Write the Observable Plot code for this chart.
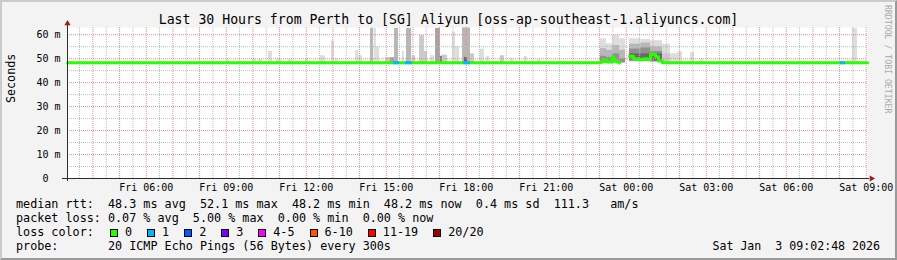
<!DOCTYPE html>
<html><head><meta charset="utf-8">
<script src="https://cdn.jsdelivr.net/npm/d3@7"></script>
<script src="https://cdn.jsdelivr.net/npm/@observablehq/plot@0.6"></script>
<style>
html,body{margin:0;padding:0;background:#f3f3f3;}
#wrap{position:relative;width:897px;height:260px;background:#f3f3f3;font-family:"DejaVu Sans Mono",monospace;color:#000;overflow:hidden;}
#shade{position:absolute;left:0;top:0;width:897px;height:260px;box-sizing:border-box;border-top:2px solid #cbcbcb;border-left:2px solid #cbcbcb;border-right:2px solid #999;border-bottom:2px solid #999;pointer-events:none;}
#title{height:20px;position:relative;font-size:13.2px;}
#title span{position:absolute;left:0;right:0;top:12px;text-align:center;white-space:pre;line-height:15px;}
#chart svg{display:block;overflow:visible;background:transparent;}
#legend{width:881px;padding-top:1px;padding-left:16px;font-size:11.75px;line-height:14px;white-space:pre;}
#legend .ln{position:relative;height:14px;}
#legend .box{display:inline-block;width:6px;height:6px;border:1px solid #000;vertical-align:-1px;margin-left:15px;margin-right:7px;}
#legend .box.first{margin-left:2px;}
#stamp{position:absolute;right:17px;top:0;font-size:11.6px;}
#wm{position:absolute;left:883px;top:5px;font-size:8.2px;color:#aaa;writing-mode:vertical-rl;white-space:pre;font-family:"DejaVu Sans Mono",monospace;}
</style></head>
<body>
<div id="wrap">
  <div id="title"><span></span></div>
  <div id="chart"></div>
  <div id="legend"></div>
  <div id="wm">RRDTOOL / TOBI OETIKER</div>
  <div id="shade"></div>
</div>
<script>
// ---------------- data ----------------
const titleText = "Last 30 Hours from Perth to [SG] Aliyun [oss-ap-southeast-1.aliyuncs.com]";
const yAxisTitle = "Seconds";
const startTime = "2026-01-02T03:02:48Z";   // Fri
const endTime   = "2026-01-03T09:02:48Z";   // Sat
const yMax = 63;
const yTicks = [0, 10, 20, 30, 40, 50, 60];
const xTickHours = [6, 9, 12, 15, 18, 21, 24, 27, 30, 33]; // hours after Fri 00:00

// median RTT steps: hour after Fri 00:00, value in ms (null = no data)
const medianHour = [3.05, 23.03, 23.15, 23.26, 23.48, 23.52, 23.63, 23.75, 23.97, 24.12, 24.27, 24.46, 24.65, 24.80, 24.91, 25.10, 25.21, 25.36, 33.05];
const medianMs   = [48.3, 48.6, 49.3, 48.6, 50.8, 49.3, 48.6, 48.2, null, 51.0, 50.0, 49.6, 50.0, 49.6, 51.8, 50.8, 49.0, 48.3, 48.3];

// periods with packet loss (median drawn in the loss colour)
const lossStart = [15.27, 15.72, 17.90, 32.03];
const lossEnd   = [15.50, 15.98, 18.16, 32.22];
const lossValue = [48.3, 48.3, 48.3, 48.3];
const lossCount = [1, 1, 1, 1];

// smoke bands: [start hour, end hour, low ms, high ms, band rank (1 = core, 10 = outermost)]
const smoke = [
  [7.62,7.70,48.2,48.9,10],[9.01,9.12,48.2,49.5,10],[9.98,10.13,48.2,49.6,10],[10.21,10.36,48.2,49.6,10],
  [10.58,10.73,48.2,53.1,10],[10.88,11.07,48.2,49.8,10],[11.33,11.48,48.2,49.6,10],[11.97,12.08,48.2,50.0,10],
  [12.53,12.72,48.2,51.2,10],[12.95,13.06,48.2,57.5,10],[13.10,13.20,48.2,49.9,10],[13.85,13.96,48.2,53.3,10],
  [13.96,14.11,48.2,51.2,10],[14.41,14.52,48.2,62.6,8],[14.56,14.63,48.2,62.6,10],[14.63,14.75,48.2,55.0,10],
  [14.97,15.16,48.2,50.5,9],[15.16,15.31,48.2,50.4,7],[15.31,15.46,48.2,62.6,8],[15.61,15.68,48.2,53.0,10],
  [15.76,15.95,48.2,62.6,8],[15.98,16.10,48.2,51.2,9],[16.25,16.43,48.2,59.6,9],[16.43,16.55,48.2,53.0,9],
  [16.66,16.81,48.2,51.2,10],[16.85,17.03,48.2,62.6,7],[17.03,17.11,48.2,51.0,5],[17.11,17.30,48.2,51.5,9],
  [17.48,17.60,48.2,61.0,10],[17.60,17.75,48.2,55.0,10],[17.86,18.16,48.2,62.8,8],[17.94,18.05,48.2,50.5,3],
  [18.16,18.31,48.2,52.0,9],[18.53,18.68,48.2,54.0,10],[18.76,18.87,48.2,51.0,10],[19.28,19.43,48.2,51.2,9],
  [19.66,19.77,48.2,50.0,10],[20.18,20.29,48.2,51.0,10],[20.67,20.78,48.2,49.6,10],
  [23.03,23.26,48.2,58.3,10],[23.26,23.48,48.2,56.2,10],[23.48,23.75,48.2,59.7,10],[23.75,23.97,48.2,58.3,10],
  [23.03,23.26,48.2,54.2,8],[23.26,23.48,48.2,53.5,8],[23.48,23.75,48.2,55.5,8],[23.75,23.97,48.2,53.5,8],
  [23.03,23.26,48.3,51.0,6],[23.26,23.48,48.3,50.5,6],[23.48,23.75,48.3,52.0,6],[23.75,23.97,48.2,50.0,6],
  [24.12,24.55,48.5,58.3,10],[24.55,24.91,48.5,58.0,10],[24.91,25.36,48.3,57.5,10],
  [24.12,24.55,48.8,56.0,8],[24.55,24.91,48.8,56.5,8],[24.91,25.36,48.5,55.0,8],
  [24.12,24.55,49.0,54.0,6],[24.55,24.91,49.0,54.5,6],[24.91,25.36,48.8,53.0,6],
  [24.12,24.55,49.3,52.0,4],[24.55,24.91,49.3,52.0,4],[24.91,25.36,49.0,52.0,4],
  [25.36,25.66,48.2,56.0,10],[25.36,25.66,48.2,52.0,9],
  [25.66,25.92,48.2,52.0,10],[25.92,26.11,48.2,52.8,10],[26.41,26.56,48.2,52.5,10],[26.78,26.90,48.2,49.8,10],
  [27.94,28.06,48.2,49.0,10],[32.30,32.48,48.2,49.3,10],[32.48,32.67,48.2,62.6,10]
];

// legend
const lossLabels = ["0", "1", "2", "3", "4-5", "6-10", "11-19", "20/20"];
const lossColors = ["#26ff00", "#00b8ff", "#0059ff", "#7e00ff", "#ff00ff", "#ff5500", "#ff0000", "#a00000"];
const rttLine  = "median rtt:  48.3 ms avg  52.1 ms max  48.2 ms min  48.2 ms now  0.4 ms sd  111.3   am/s";
const lossLine = "packet loss: 0.07 % avg  5.00 % max  0.00 % min  0.00 % now";
const probeLine = "probe:       20 ICMP Echo Pings (56 Bytes) every 300s";
const stampText = "Sat Jan  3 09:02:48 2026";

// ---------------- build ----------------
const base = Date.UTC(2026, 0, 2);
const T = h => new Date(base + h * 3600e3);
const t0 = new Date(startTime), t1 = new Date(endTime);

const bands = smoke.map(([a, b, lo, hi, r]) => ({t1: T(a), t2: T(b), lo, hi, r}))
  .sort((p, q) => q.r - p.r);
const median = medianHour.map((h, i) => ({t: T(h), v: medianMs[i]}));
const loss = lossStart.map((s, i) => ({t1: T(s), t2: T(lossEnd[i]), v: lossValue[i], c: lossColors[lossCount[i]]}));

const hourGrid = d3.utcHour.every(1).range(t0, t1);
const halfGrid = d3.utcMinute.every(30).range(t0, t1).filter(d => d.getUTCMinutes() === 30);
const yMajor = d3.range(10, yMax, 10);
const yMinor = d3.range(5, yMax, 10);

document.querySelector("#title span").textContent = titleText;

const chart = Plot.plot({
  width: 897, height: 176,
  marginLeft: 67, marginRight: 30, marginTop: 7, marginBottom: 18,
  style: {background: "transparent", fontFamily: "'DejaVu Sans Mono', monospace", fontSize: "10px", color: "#000", overflow: "visible"},
  x: {type: "utc", domain: [t0, t1], ticks: xTickHours.map(T), tickFormat: d3.utcFormat("%a %H:%M"), tickSize: 0, tickPadding: 5, label: null},
  y: {domain: [0, yMax], ticks: yTicks, tickFormat: d => d === 0 ? "0  " : `${d} m`, tickSize: 0, tickPadding: 7, label: null},
  color: {type: "linear", domain: [1, 10], range: ["#303030", "#dddddd"]},
  marks: [
    Plot.frame({fill: "white", stroke: "none"}),
    Plot.rect(bands, {x1: "t1", x2: "t2", y1: "lo", y2: "hi", fill: "r"}),
    Plot.ruleX(halfGrid, {stroke: "#bcbcbc", strokeDasharray: "1,1"}),
    Plot.ruleY(yMinor, {stroke: "#bcbcbc", strokeDasharray: "1,1"}),
    Plot.ruleX(hourGrid, {stroke: "#ee8e8e", strokeDasharray: "1,1"}),
    Plot.ruleY(yMajor, {stroke: "#ee8e8e", strokeDasharray: "1,1"}),
    Plot.line(median, {x: "t", y: "v", curve: "step-after", stroke: lossColors[0], strokeWidth: 3, defined: d => d.v != null}),
    Plot.ruleY(loss, {x1: "t1", x2: "t2", y: "v", stroke: "c", strokeWidth: 3}),
    Plot.ruleY([0], {stroke: "#2c2c2c", insetLeft: -5, insetRight: -2}),
    Plot.ruleX([t0], {stroke: "#2c2c2c", insetTop: -4, insetBottom: -3}),
    Plot.dot([0], {frameAnchor: "top-left", symbol: "triangle", r: 2.3, fill: "#9b1c1c", stroke: "none", dy: -4}),
    Plot.dot([0], {frameAnchor: "bottom-right", symbol: "triangle", r: 2.3, fill: "#9b1c1c", stroke: "none", dx: 4, rotate: 90}),
    Plot.text([yAxisTitle], {frameAnchor: "left", text: d => d, rotate: -90, dx: -56.5, fontSize: 11.7})
  ]
});
document.getElementById("chart").appendChild(chart);

// legend
const leg = document.getElementById("legend");
const l1 = document.createElement("div"); l1.className = "ln"; l1.textContent = rttLine; leg.appendChild(l1);
const l2 = document.createElement("div"); l2.className = "ln"; l2.textContent = lossLine; leg.appendChild(l2);
const l3 = document.createElement("div"); l3.className = "ln";
l3.appendChild(document.createTextNode("loss color:  "));
lossLabels.forEach((lab, i) => {
  const b = document.createElement("span");
  b.className = "box" + (i === 0 ? " first" : "");
  b.style.background = lossColors[i];
  l3.appendChild(b);
  l3.appendChild(document.createTextNode(lab));
});
leg.appendChild(l3);
const l4 = document.createElement("div"); l4.className = "ln"; l4.textContent = probeLine;
const st = document.createElement("span"); st.id = "stamp"; st.textContent = stampText;
l4.appendChild(st);
leg.appendChild(l4);
</script>
</body></html>
